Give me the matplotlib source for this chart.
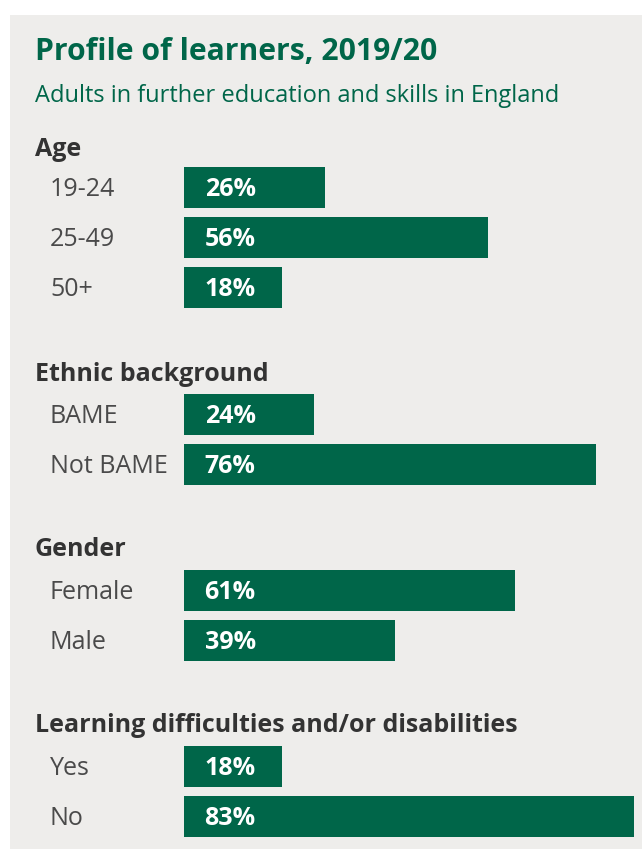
import matplotlib
matplotlib.use("Agg")
import matplotlib.pyplot as plt
from matplotlib.patches import Rectangle

# ---- data ----
title = "Profile of learners, 2019/20"
subtitle = "Adults in further education and skills in England"
groups = ["Age", "Ethnic background", "Gender", "Learning difficulties and/or disabilities"]
age_labels = ["19-24", "25-49", "50+"]
age_values = [26, 56, 18]
ethnic_labels = ["BAME", "Not BAME"]
ethnic_values = [24, 76]
gender_labels = ["Female", "Male"]
gender_values = [61, 39]
lldd_labels = ["Yes", "No"]
lldd_values = [18, 83]

# ---- style ----
W, H = 642, 849
BG = "#eeedeb"
GREEN = "#006649"
HEAD = "#333333"
LAB = "#4a4a4a"

fig = plt.figure(figsize=(W / 100, H / 100), dpi=100)
fig.patch.set_facecolor("white")

bg = fig.add_axes([0, 0, 1, 1])
bg.set_xlim(0, W)
bg.set_ylim(H, 0)
bg.axis("off")
bg.add_patch(Rectangle((10, 15), W - 10, H - 15, facecolor=BG, edgecolor="none"))

bg.text(35, 52, title, fontsize=21.7, fontweight="bold", color=GREEN,
        family="Open Sans", va="center", ha="left")
bg.text(35, 96, subtitle, fontsize=17, color=GREEN,
        family="Open Sans", va="center", ha="left")

# bar axes: x 0..100 maps to pixels 184..726
x0_px, px_per_unit = 184, 5.42
bar_ax = fig.add_axes([x0_px / W, 0, 100 * px_per_unit / W, 1])
bar_ax.set_xlim(0, 100)
bar_ax.set_ylim(H, 0)
bar_ax.axis("off")
bar_ax.patch.set_alpha(0)

sections = [
    (groups[0], 149, age_labels, age_values, 187.5),
    (groups[1], 374, ethnic_labels, ethnic_values, 414.5),
    (groups[2], 550, gender_labels, gender_values, 590.5),
    (groups[3], 725, lldd_labels, lldd_values, 766.5),
]
row_step = 50.2
bar_h = 41

for head, hy, labels, values, y0 in sections:
    bg.text(35, hy, head, fontsize=18, fontweight="bold", color=HEAD,
            family="Open Sans", va="center", ha="left")
    ys = [y0 + i * row_step for i in range(len(labels))]
    bar_ax.barh(ys, values, height=bar_h, color=GREEN, left=0)
    for y, lab, v in zip(ys, labels, values):
        bg.text(50, y + 2, lab, fontsize=18, color=LAB, family="Open Sans",
                va="center", ha="left")
        bar_ax.text(3.8, y + 2, f"{v}%", fontsize=18, fontweight="bold",
                    color="white", family="Open Sans", va="center", ha="left")

fig.savefig("out.png", dpi=100, facecolor=fig.get_facecolor())
